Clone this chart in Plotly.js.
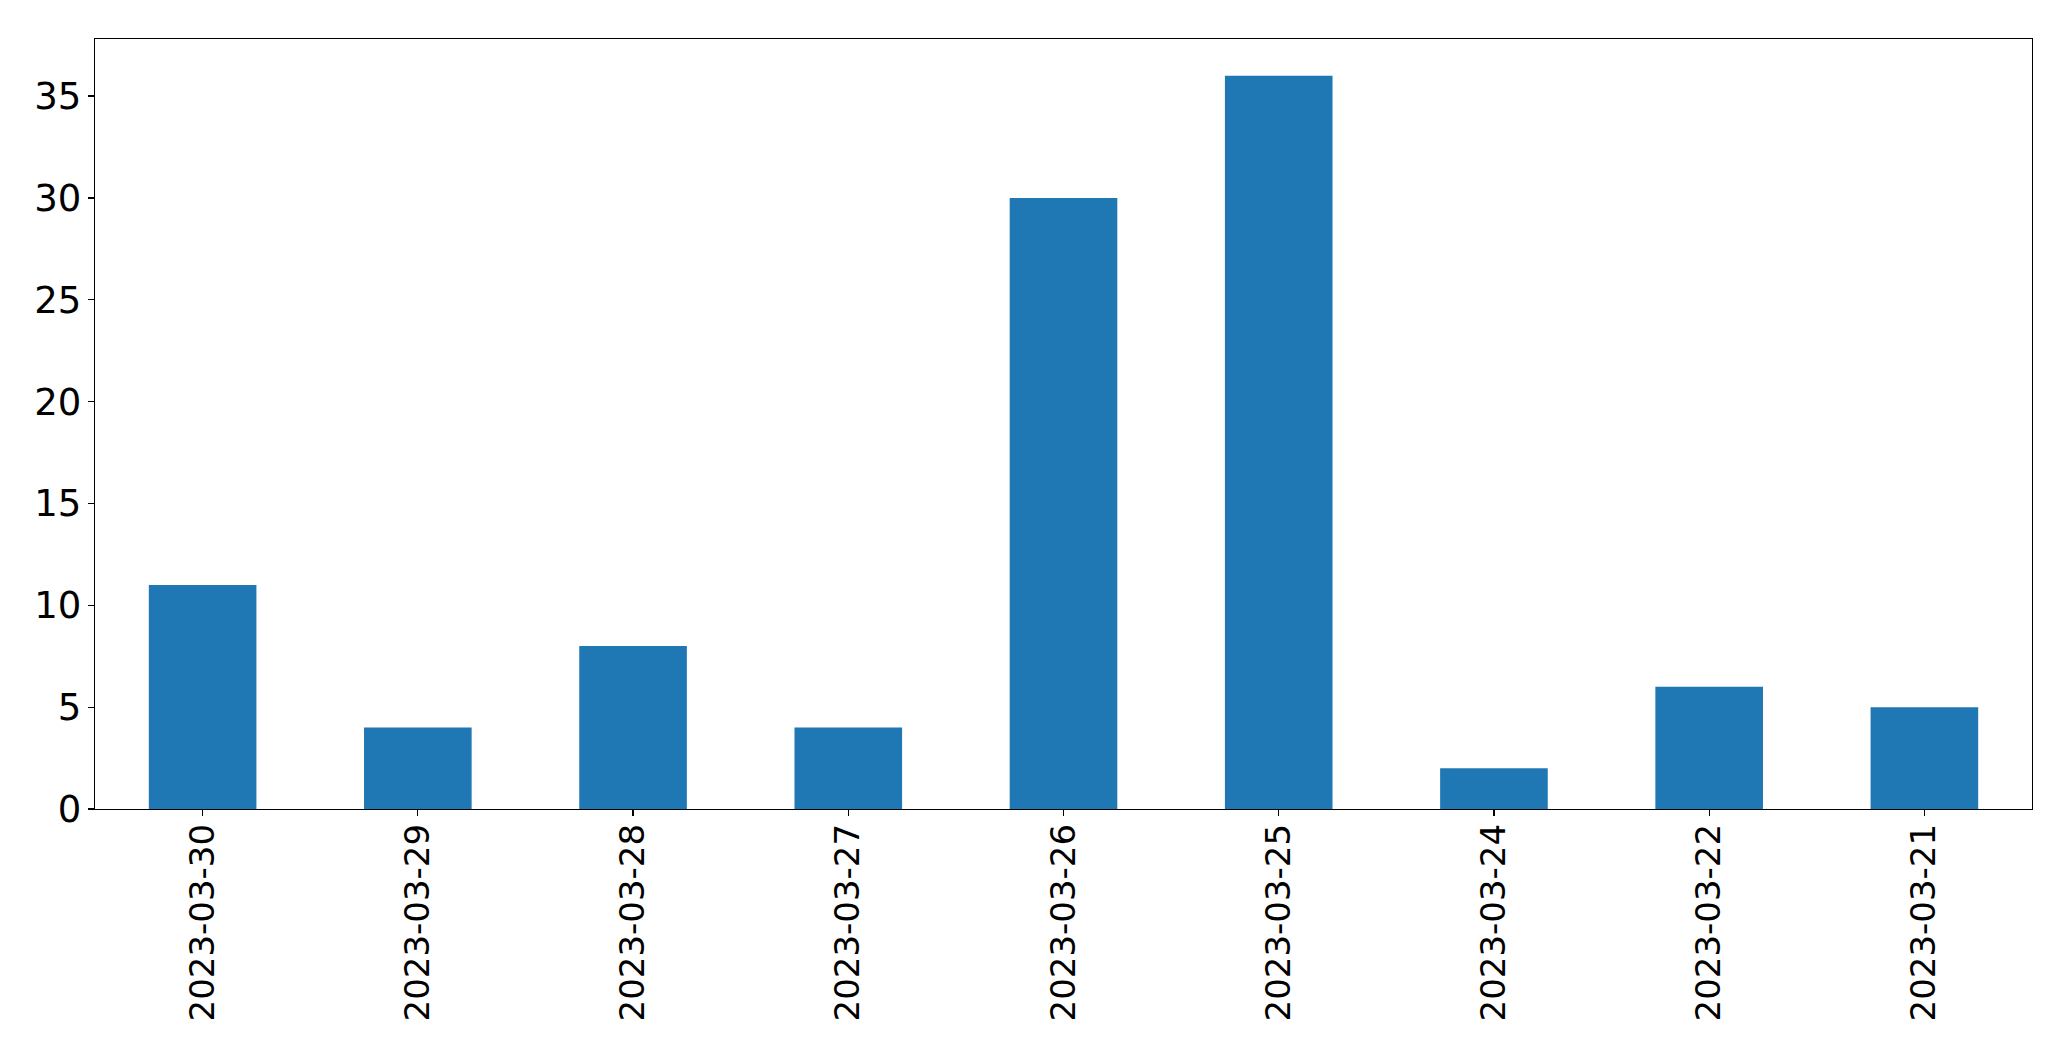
<!DOCTYPE html>
<html>
<head>
<meta charset="utf-8">
<script src="https://cdn.plot.ly/plotly-3.0.1.min.js"></script>
<style>html,body{margin:0;padding:0;background:#fff;}#chart{width:2071px;height:1061px;}</style>
</head>
<body>
<div id="chart"></div>
<script>
const categories = ["2023-03-30","2023-03-29","2023-03-28","2023-03-27","2023-03-26","2023-03-25","2023-03-24","2023-03-22","2023-03-21"];
const values = [11, 4, 8, 4, 30, 36, 2, 6, 5];
const yTicks = [0, 5, 10, 15, 20, 25, 30, 35];

const trace = {
  type: 'bar',
  x: categories,
  y: values,
  width: 0.5,
  marker: {color: '#1f77b4', line: {width: 0}},
  hoverinfo: 'x+y'
};

const xFont = {family: 'DejaVu Sans, sans-serif', size: 34, color: '#000'};
const yFont = {family: 'DejaVu Sans, sans-serif', size: 37, color: '#000'};

const layout = {
  width: 2071,
  height: 1061,
  margin: {l: 95, r: 39, t: 39, b: 252, pad: 0},
  paper_bgcolor: '#fff',
  plot_bgcolor: '#fff',
  showlegend: false,
  bargap: 0.5,
  font: xFont,
  xaxis: {
    type: 'category',
    range: [-0.5, 8.5],
    tickmode: 'array',
    tickvals: categories,
    ticktext: categories,
    tickangle: -90,
    ticks: 'outside',
    ticklen: 6,
    tickwidth: 1.3,
    tickcolor: '#000',
    ticklabelstandoff: -6,
    showline: true,
    linecolor: '#000',
    linewidth: 1.3,
    mirror: true,
    showgrid: false,
    zeroline: false,
    tickfont: xFont
  },
  yaxis: {
    range: [0, 37.8],
    tickmode: 'array',
    tickvals: yTicks,
    ticktext: yTicks.map(String),
    ticks: 'outside',
    ticklen: 6,
    tickwidth: 1.3,
    tickcolor: '#000',
    ticklabelstandoff: -1,
    showline: true,
    linecolor: '#000',
    linewidth: 1.3,
    mirror: true,
    showgrid: false,
    zeroline: false,
    tickfont: yFont
  }
};

Plotly.newPlot('chart', [trace], layout, {displayModeBar: false, staticPlot: true});
</script>
</body>
</html>
